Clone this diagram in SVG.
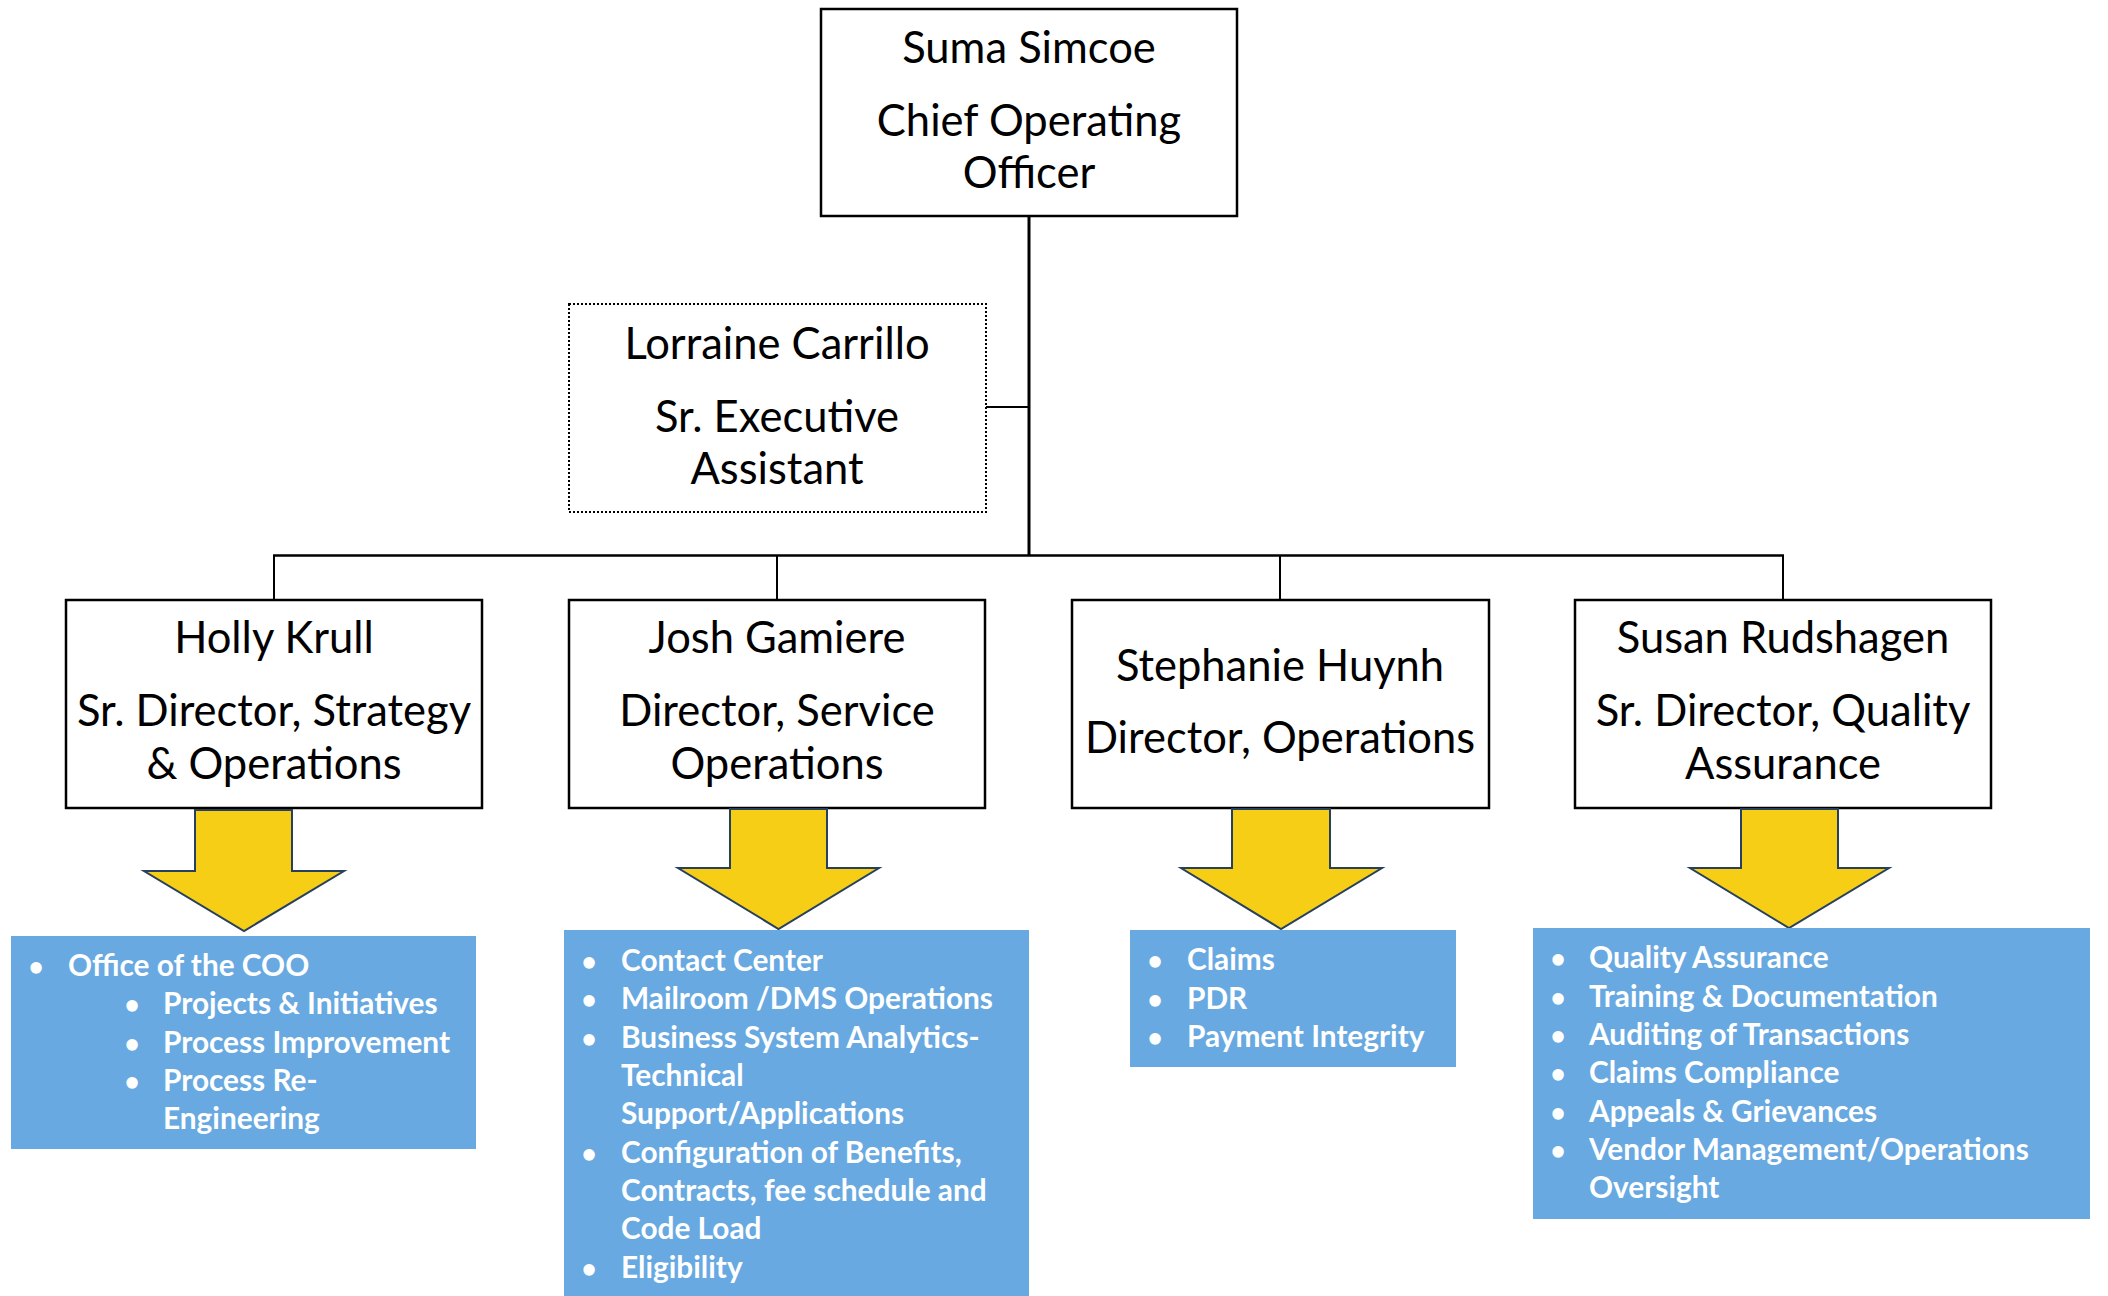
<svg xmlns="http://www.w3.org/2000/svg" width="2108" height="1296" viewBox="0 0 2108 1296">
<style>
.box{fill:#fff;stroke:#000;stroke-width:2.5}
.dot{fill:#fff;stroke:#000;stroke-width:2;stroke-dasharray:2 2}
.nt{font-family:Lato,"Liberation Sans",sans-serif;font-size:43.5px;fill:#000;text-anchor:middle}
.arr{fill:#F6CE15;stroke:#27405E;stroke-width:2;stroke-linejoin:miter}
.blue{fill:#68A9E1}
.lt{font-family:Lato,"Liberation Sans",sans-serif;font-size:29.8px;font-weight:bold;fill:#fff}
.bl{font-family:Lato,"Liberation Sans",sans-serif;font-size:26px;font-weight:bold;fill:#fff;text-anchor:middle}
.ln{stroke:#000;fill:none}
</style>
<g id="connectors">
<line class="ln" x1="1029" y1="216" x2="1029" y2="556" stroke-width="3"/>
<line class="ln" x1="986" y1="407" x2="1029" y2="407" stroke-width="2"/>
<line class="ln" x1="273" y1="555.5" x2="1784" y2="555.5" stroke-width="2.5"/>
<line class="ln" x1="274" y1="555" x2="274" y2="600" stroke-width="2"/>
<line class="ln" x1="777" y1="555" x2="777" y2="600" stroke-width="2"/>
<line class="ln" x1="1280" y1="555" x2="1280" y2="600" stroke-width="2"/>
<line class="ln" x1="1783" y1="555" x2="1783" y2="600" stroke-width="2"/>
</g>
<g id="coo">
<rect class="box" x="821" y="9" width="416" height="207"/>
<text class="nt" x="1029" y="63">Suma Simcoe</text>
<text class="nt" x="1029" y="136">Chief Operating</text>
<text class="nt" x="1029" y="188">Officer</text>
</g>
<g id="assistant">
<rect class="dot" x="569" y="304" width="417" height="208"/>
<text class="nt" x="777" y="359">Lorraine Carrillo</text>
<text class="nt" x="777" y="432">Sr. Executive</text>
<text class="nt" x="777" y="484">Assistant</text>
</g>
<g id="holly">
<rect class="box" x="66" y="600" width="416" height="208"/>
<text class="nt" x="274" y="653">Holly Krull</text>
<text class="nt" x="274" y="726">Sr. Director, Strategy</text>
<text class="nt" x="274" y="779">&amp; Operations</text>
</g>
<g id="josh">
<rect class="box" x="569" y="600" width="416" height="208"/>
<text class="nt" x="777" y="653">Josh Gamiere</text>
<text class="nt" x="777" y="726">Director, Service</text>
<text class="nt" x="777" y="779">Operations</text>
</g>
<g id="stephanie">
<rect class="box" x="1072" y="600" width="417" height="208"/>
<text class="nt" x="1280" y="681">Stephanie Huynh</text>
<text class="nt" x="1280" y="753">Director, Operations</text>
</g>
<g id="susan">
<rect class="box" x="1575" y="600" width="416" height="208"/>
<text class="nt" x="1783" y="653">Susan Rudshagen</text>
<text class="nt" x="1783" y="726">Sr. Director, Quality</text>
<text class="nt" x="1783" y="779">Assurance</text>
</g>
<g id="arrow-holly"><polygon class="arr" points="195,810 292,810 292,871 344,871 244,931 144,871 195,871"/></g>
<g id="arrow-josh"><polygon class="arr" points="730,809 827,809 827,868 879,868 778.5,929 678,868 730,868"/></g>
<g id="arrow-stephanie"><polygon class="arr" points="1232,809 1330,809 1330,868 1382,868 1281,929 1181,868 1232,868"/></g>
<g id="arrow-susan"><polygon class="arr" points="1741,809 1838,809 1838,868 1889,868 1789,928 1690,868 1741,868"/></g>
<g id="list-holly">
<rect class="blue" x="11" y="936" width="465" height="213"/>
<text class="bl" x="36" y="976">•</text><text class="lt" x="68" y="976">Office of the COO</text>
<text class="bl" x="132" y="1014">•</text><text class="lt" x="163" y="1014">Projects &amp; Initiatives</text>
<text class="bl" x="132" y="1053">•</text><text class="lt" x="163" y="1053">Process Improvement</text>
<text class="bl" x="132" y="1091">•</text><text class="lt" x="163" y="1091">Process Re-</text>
<text class="lt" x="163" y="1129">Engineering</text>
</g>
<g id="list-josh">
<rect class="blue" x="564" y="930" width="465" height="366"/>
<text class="bl" x="589" y="971">•</text><text class="lt" x="621" y="971">Contact Center</text>
<text class="bl" x="589" y="1009">•</text><text class="lt" x="621" y="1009">Mailroom /DMS Operations</text>
<text class="bl" x="589" y="1048">•</text><text class="lt" x="621" y="1048">Business System Analytics-</text>
<text class="lt" x="621" y="1086">Technical</text>
<text class="lt" x="621" y="1124">Support/Applications</text>
<text class="bl" x="589" y="1163">•</text><text class="lt" x="621" y="1163">Configuration of Benefits,</text>
<text class="lt" x="621" y="1201">Contracts, fee schedule and</text>
<text class="lt" x="621" y="1239">Code Load</text>
<text class="bl" x="589" y="1278">•</text><text class="lt" x="621" y="1278">Eligibility</text>
</g>
<g id="list-stephanie">
<rect class="blue" x="1130" y="930" width="326" height="137"/>
<text class="bl" x="1155" y="970">•</text><text class="lt" x="1187" y="970">Claims</text>
<text class="bl" x="1155" y="1009">•</text><text class="lt" x="1187" y="1009">PDR</text>
<text class="bl" x="1155" y="1047">•</text><text class="lt" x="1187" y="1047">Payment Integrity</text>
</g>
<g id="list-susan">
<rect class="blue" x="1533" y="928" width="557" height="291"/>
<text class="bl" x="1558" y="968">•</text><text class="lt" x="1589" y="968">Quality Assurance</text>
<text class="bl" x="1558" y="1007">•</text><text class="lt" x="1589" y="1007">Training &amp; Documentation</text>
<text class="bl" x="1558" y="1045">•</text><text class="lt" x="1589" y="1045">Auditing of Transactions</text>
<text class="bl" x="1558" y="1083">•</text><text class="lt" x="1589" y="1083">Claims Compliance</text>
<text class="bl" x="1558" y="1122">•</text><text class="lt" x="1589" y="1122">Appeals &amp; Grievances</text>
<text class="bl" x="1558" y="1160">•</text><text class="lt" x="1589" y="1160">Vendor Management/Operations</text>
<text class="lt" x="1589" y="1198">Oversight</text>
</g>
</svg>
